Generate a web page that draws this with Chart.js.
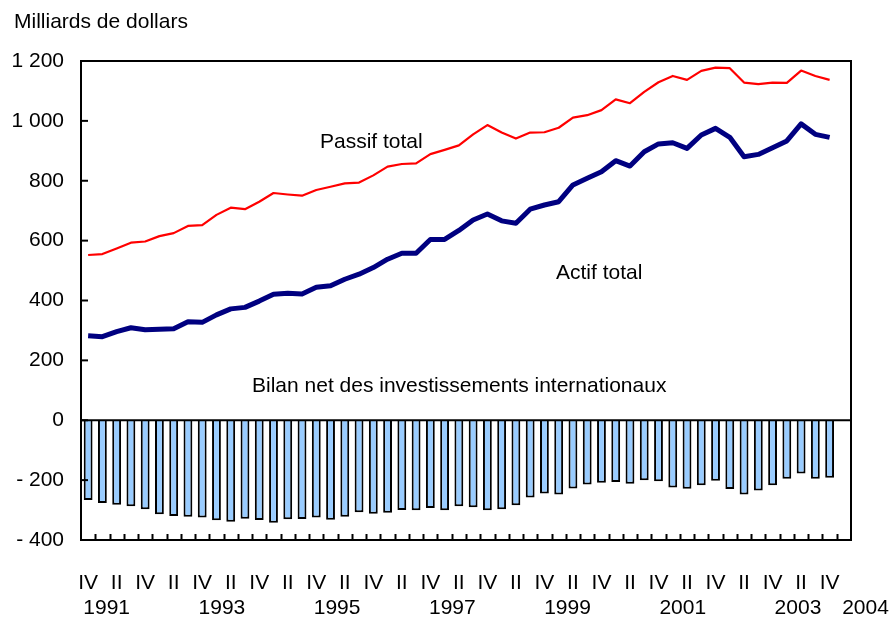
<!DOCTYPE html>
<html>
<head>
<meta charset="utf-8">
<script src="https://cdn.jsdelivr.net/npm/chart.js@4.4.1/dist/chart.umd.min.js"></script>
<style>
    html, body { margin: 0; padding: 0; background: #fff; }
    #wrap { width: 889px; height: 624px; position: relative; }
</style>
</head>
<body>
<div id="wrap"><canvas id="chart" width="889" height="624"></canvas></div>
<script>
// Quarterly data, 1990 Q4 to 2003 Q4 (last category, 2004 Q1, is empty)
const romanQuarters = ['I', 'II', 'III', 'IV'];
const shownQuarters = ['II', 'IV'];
const yearLabels = ['1991', '1993', '1995', '1997', '1999', '2001', '2003', '2004'];
const yTicks = [-400, -200, 0, 200, 400, 600, 800, 1000, 1200];

const passifTotal = [552, 555, 574, 593, 597, 615, 625, 649, 652, 686, 710, 705, 730, 759, 754, 750,
    769, 780, 791, 794, 818, 847, 856, 858, 889, 903, 918, 955, 986, 961, 941, 961, 962, 977,
    1011, 1019, 1036, 1072, 1059, 1097, 1129, 1150, 1137, 1167, 1178, 1176, 1128, 1123, 1128,
    1127, 1168, 1150, 1137];
const actifTotal = [282, 279, 296, 309, 302, 304, 306, 329, 327, 352, 372, 377, 398, 421, 424, 422,
    444, 449, 471, 488, 510, 538, 558, 558, 604, 604, 634, 669, 689, 666, 658, 705, 719, 730,
    786, 808, 830, 867, 849, 897, 923, 927, 908, 953, 975, 945, 880, 888, 910, 933, 990, 955, 945];
const bilanNet = [-266, -276, -282, -287, -297, -314, -320, -322, -325, -334, -339, -329, -333, -342,
    -331, -330, -325, -332, -322, -307, -312, -309, -300, -301, -293, -301, -287, -291, -301, -297,
    -284, -258, -245, -248, -228, -215, -209, -206, -212, -200, -204, -225, -229, -217, -202, -230,
    -248, -235, -217, -195, -178, -195, -192];

// categories: 1990 Q4 ... 2004 Q1
const categories = [];
for (let i = 0; i < 54; i++) {
    categories.push(romanQuarters[(i + 3) % 4]);
}

const FONT = "'Liberation Sans', Arial, Helvetica, sans-serif";

function formatTick(v) {
    const s = String(Math.abs(v)).replace(/\B(?=(\d{3})+(?!\d))/g, ' ');
    return v < 0 ? '- ' + s : s;
}

// frame, zero line, inward tick marks and text labels
const decorPlugin = {
    id: 'decor',
    afterDatasetsDraw(chart) {
        const ctx = chart.ctx;
        const area = chart.chartArea;
        const x = chart.scales.x;
        const y = chart.scales.y;
        ctx.save();
        ctx.strokeStyle = '#000';
        ctx.lineWidth = 2;
        // zero line
        const y0 = y.getPixelForValue(0);
        ctx.beginPath();
        ctx.moveTo(area.left, y0);
        ctx.lineTo(area.right, y0);
        ctx.stroke();
        // frame
        ctx.strokeRect(area.left, area.top, area.right - area.left, area.bottom - area.top);
        // y inner ticks
        yTicks.forEach(v => {
            const py = y.getPixelForValue(v);
            ctx.beginPath();
            ctx.moveTo(area.left, py);
            ctx.lineTo(area.left + 7, py);
            ctx.stroke();
        });
        // x inner ticks at category boundaries
        for (let k = 1; k <= bilanNet.length; k++) {
            const px = Math.round(x.getPixelForValue(k - 0.5)) + 0.5;
            ctx.beginPath();
            ctx.moveTo(px, area.bottom);
            ctx.lineTo(px, area.bottom - 6);
            ctx.stroke();
        }
        ctx.restore();
    },
    afterDraw(chart) {
        const ctx = chart.ctx;
        const x = chart.scales.x;
        ctx.save();
        ctx.fillStyle = '#000';
        ctx.font = '21px ' + FONT;
        ctx.textBaseline = 'alphabetic';
        ctx.textAlign = 'left';
        ctx.fillText('Milliards de dollars', 14, 28);
        ctx.fillText('Passif total', 320, 148);
        ctx.fillText('Actif total', 556, 279);
        ctx.fillText('Bilan net des investissements internationaux', 252, 392);
        // year labels (the last one sits just past the axis end)
        ctx.textAlign = 'center';
        yearLabels.forEach((label, i) => {
            const n = parseInt(label, 10) - 1991;
            let pos = 1.3 + n * 4.04;
            if (i === yearLabels.length - 1) pos += 0.7;
            ctx.fillText(label, x.getPixelForValue(pos), 614);
        });
        ctx.restore();
    }
};

const ctx = document.getElementById('chart').getContext('2d');
new Chart(ctx, {
    type: 'bar',
    data: {
        labels: categories,
        datasets: [
            {
                type: 'line',
                label: 'Actif total',
                data: actifTotal,
                borderColor: '#000080',
                borderWidth: 5,
                borderJoinStyle: 'round',
                pointRadius: 0,
                tension: 0,
                fill: false,
                order: 1
            },
            {
                type: 'line',
                label: 'Passif total',
                data: passifTotal,
                borderColor: '#FF0000',
                borderWidth: 2.2,
                borderJoinStyle: 'round',
                pointRadius: 0,
                tension: 0,
                fill: false,
                order: 2
            },
            {
                type: 'bar',
                label: 'Bilan net des investissements internationaux',
                data: bilanNet,
                backgroundColor: '#99CCFF',
                borderColor: '#000',
                borderWidth: 2,
                borderSkipped: 'start',
                barPercentage: 0.62,
                categoryPercentage: 1,
                order: 3
            }
        ]
    },
    options: {
        responsive: false,
        animation: false,
        layout: {
            padding: { top: 61, right: 38, bottom: 0, left: 0 }
        },
        plugins: {
            legend: { display: false },
            tooltip: { enabled: false }
        },
        scales: {
            x: {
                offset: true,
                grid: { display: false, drawTicks: false },
                border: { display: false },
                ticks: {
                    autoSkip: false,
                    maxRotation: 0,
                    minRotation: 0,
                    padding: 31,
                    color: '#000',
                    font: { size: 21, family: FONT },
                    callback: function(value, index) {
                        if (index >= bilanNet.length) return '';
                        const q = categories[index];
                        return shownQuarters.includes(q) ? q : '';
                    }
                },
                afterFit: function(scale) { scale.height = 84; }
            },
            y: {
                min: -400,
                max: 1200,
                grid: { display: false, drawTicks: false },
                border: { display: false },
                ticks: {
                    stepSize: 200,
                    padding: 17,
                    color: '#000',
                    font: { size: 21, family: FONT },
                    callback: function(value) { return formatTick(value); }
                },
                afterFit: function(scale) { scale.width = 81; }
            }
        }
    },
    plugins: [decorPlugin]
});
</script>
</body>
</html>
